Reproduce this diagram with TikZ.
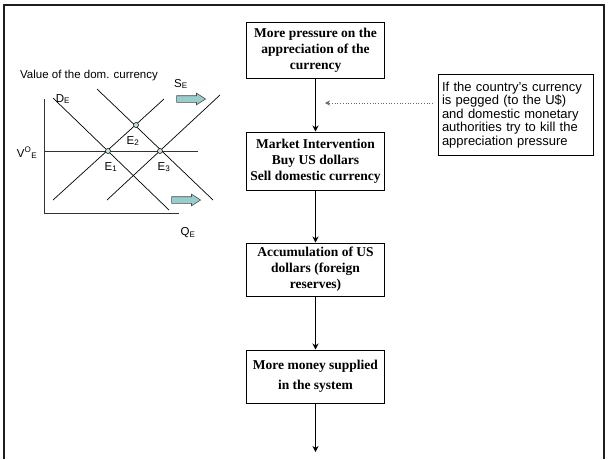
\documentclass[tikz,border=0pt]{standalone}
\usepackage{fontspec}
\setmainfont{Liberation Serif}
\setsansfont{Liberation Sans}
\usetikzlibrary{arrows.meta,positioning,shapes.arrows}
\usepackage{xcolor}
\definecolor{PaleTeal}{RGB}{153,204,204}
\definecolor{FrameGray}{RGB}{30,30,30}
\tikzset{
  flowbox/.style={draw, line width=1pt, fill=white, minimum width=138pt,
    inner sep=3pt, align=center, minimum height=53pt,
    font=\fontsize{13.5}{16}\selectfont\bfseries},
  notebox/.style={draw, line width=0.8pt, text width=147pt, inner xsep=4pt,
    inner ysep=7pt, align=left, font=\sffamily\fontsize{13}{13.6}\selectfont},
  graphlabel/.style={inner sep=0pt, font=\sffamily\fontsize{11.5}{13}\selectfont},
  eqpoint/.style={circle, draw, line width=0.5pt, fill=PaleTeal!60,
    inner sep=0pt, minimum size=5pt},
  shiftarrow/.style={single arrow, draw=black!70, fill=PaleTeal, line width=0.6pt,
    minimum height=29pt, inner xsep=0pt, inner ysep=3pt,
    single arrow head extend=2.5pt, single arrow tip angle=65},
  curve/.style={line width=0.7pt},
  axis/.style={line width=0.9pt, black!80},
  arrow/.style={-{Stealth[length=6pt,width=6pt]}, line width=0.8pt},
  hint/.style={-{Stealth[length=5pt,width=5pt]}, dotted, line width=0.7pt, black!60}
}
\begin{document}
\begin{tikzpicture}[x=1pt,y=-1pt]
  \useasboundingbox (0,0) rectangle (608,459);
  % slide frame
  \draw[line width=2.5pt, FrameGray] (4,459) -- (4,5) -- (604,5) -- (604,459);

  % flow of boxes
  \node[flowbox, minimum height=56pt] (more) at (315.5,50)
    {More pressure on the\\appreciation of the\\currency};
  \node[flowbox, minimum height=58pt, below=53pt of more] (interv)
    {Market Intervention\\Buy US dollars\\Sell domestic currency};
  \node[flowbox, below=52pt of interv] (accum)
    {Accumulation of US\\dollars (foreign\\reserves)};
  \node[flowbox, below=53pt of accum] (supply)
    {More money supplied\\[4pt]in the system};
  \coordinate (out) at (315.5,452);
  \draw[arrow] (more) -- (interv);
  \draw[arrow] (interv) -- (accum);
  \draw[arrow] (accum) -- (supply);
  \draw[arrow] (supply) -- (out);

  % side note
  \node[notebox] (note) at (515.5,115)
    {If the country's currency\\is pegged (to the U\$)\\and domestic monetary\\authorities try to kill the\\appreciation pressure};
  \coordinate (tip) at (325,103);
  \draw[hint, shorten <=5pt] (note.west |- tip) -- (tip);

  % supply and demand graph
  \node[graphlabel] (title) at (89,76) {Value of the dom. currency};
  \draw[axis] (44,99) -- (44,213) -- (179,213);
  \draw[axis] (44,151) -- (198,151);
  \draw[curve] (53,98) -- (169,210);   % D1
  \draw[curve] (97,89) -- (213,200);   % D2
  \draw[curve] (53,200) -- (164,99);   % S1
  \draw[curve] (107,200) -- (220,95);  % S2
  \node[eqpoint] (e1) at (108,151) {};
  \node[eqpoint] (e2) at (136,125) {};
  \node[eqpoint] (e3) at (160,151) {};
  \node[graphlabel] (e1lab) at (111,167) {E\textsubscript{1}};
  \node[graphlabel] (e2lab) at (133,141) {E\textsubscript{2}};
  \node[graphlabel] (e3lab) at (164,167) {E\textsubscript{3}};
  \node[graphlabel] (dlab) at (63,99) {D\textsubscript{E}};
  \node[graphlabel] (slab) at (181,84) {S\textsubscript{E}};
  \node[graphlabel] (vlab) at (27,153) {V\textsuperscript{O}\textsubscript{E}};
  \node[graphlabel] (qlab) at (188,233) {Q\textsubscript{E}};
  \node[shiftarrow] (supshift) at (188.5,99) {};
  \node[shiftarrow] (demshift) at (183.5,200) {};
\end{tikzpicture}
\end{document}
